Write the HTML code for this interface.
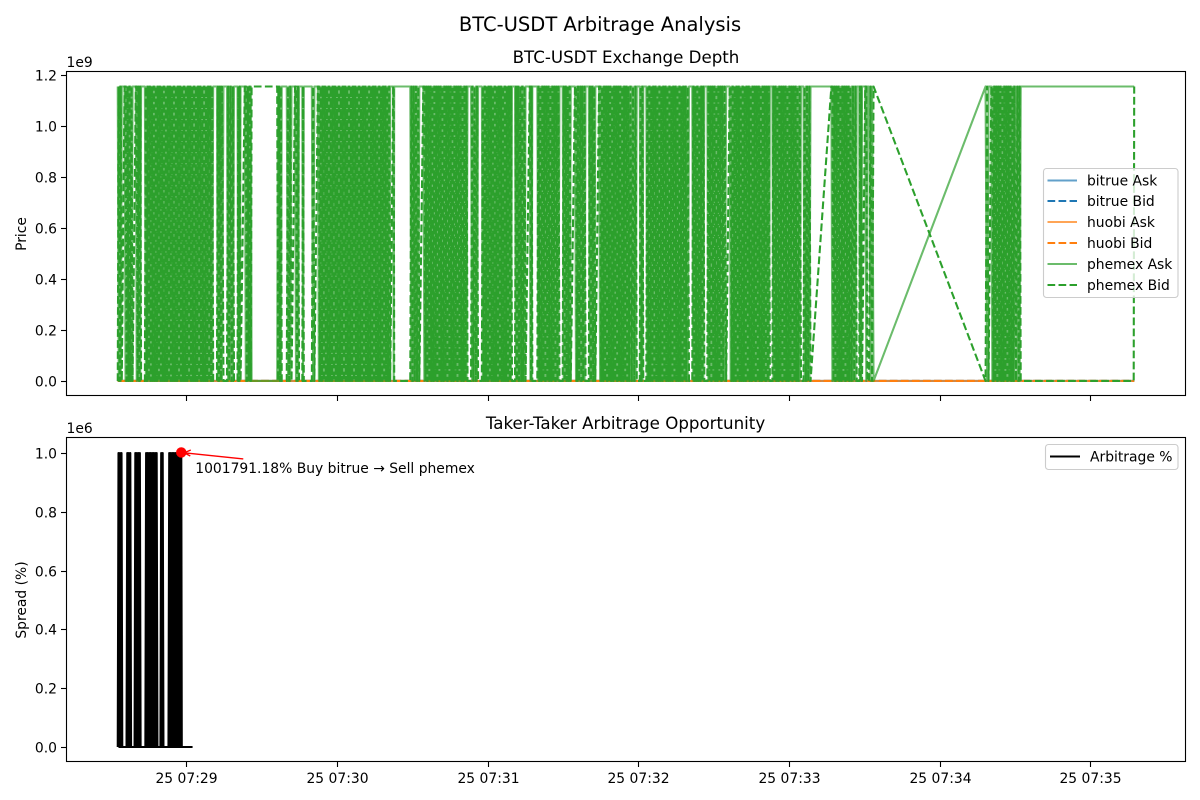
<!DOCTYPE html>
<html>
<head>
<meta charset="utf-8">
<title>BTC-USDT Arbitrage Analysis</title>
<style>
html,body{margin:0;padding:0;background:#fff;}
svg{display:block;font-family:"DejaVu Sans","Liberation Sans",sans-serif;}
text{fill:#000;}
</style>
</head>
<body>
<svg id="chart" width="1200" height="800" viewBox="0 0 1200 800" xmlns="http://www.w3.org/2000/svg">
  <rect width="1200" height="800" fill="#fff"/>
  <text x="600" y="31" font-size="19.5" text-anchor="middle">BTC-USDT Arbitrage Analysis</text>
  <text x="626" y="63" font-size="16.67" text-anchor="middle">BTC-USDT Exchange Depth</text>
  <text x="625.5" y="429" font-size="16.67" text-anchor="middle">Taker-Taker Arbitrage Opportunity</text>
  <text transform="translate(26,234) rotate(-90)" font-size="13.89" text-anchor="middle">Price</text>
  <text transform="translate(26,600) rotate(-90)" font-size="13.89" text-anchor="middle">Spread (%)</text>
  <text x="66.5" y="67" font-size="13.89">1e9</text>
  <text x="66.5" y="433" font-size="13.89">1e6</text>
  <g id="depth-series"></g>
  <g id="arb-series"></g>
  <g id="axes-ticks"></g>
  <rect x="66.5" y="71.5" width="1119" height="324" fill="none" stroke="#000" stroke-width="1.1"/>
  <rect x="66.5" y="437.5" width="1119" height="324" fill="none" stroke="#000" stroke-width="1.1"/>

  <g>
    <rect x="1043.5" y="168.5" width="134.5" height="129" rx="3" fill="#fff" fill-opacity="0.8" stroke="#ccc" stroke-width="1.1"/>
    <g><line x1="1047.5" x2="1077" y1="180.5" y2="180.5" stroke="#1f77b4" stroke-opacity="0.7" stroke-width="2.08"/><text x="1087" y="185.5" font-size="13.89">bitrue Ask</text></g>
    <g><line x1="1047.5" x2="1077" y1="201" y2="201" stroke="#1f77b4" stroke-width="2.08" stroke-dasharray="7.7 3.33"/><text x="1087" y="206" font-size="13.89">bitrue Bid</text></g>
    <g><line x1="1047.5" x2="1077" y1="222" y2="222" stroke="#ff7f0e" stroke-opacity="0.7" stroke-width="2.08"/><text x="1087" y="227" font-size="13.89">huobi Ask</text></g>
    <g><line x1="1047.5" x2="1077" y1="243" y2="243" stroke="#ff7f0e" stroke-width="2.08" stroke-dasharray="7.7 3.33"/><text x="1087" y="248" font-size="13.89">huobi Bid</text></g>
    <g><line x1="1047.5" x2="1077" y1="264" y2="264" stroke="#2ca02c" stroke-opacity="0.7" stroke-width="2.08"/><text x="1087" y="269" font-size="13.89">phemex Ask</text></g>
    <g><line x1="1047.5" x2="1077" y1="285" y2="285" stroke="#2ca02c" stroke-width="2.08" stroke-dasharray="7.7 3.33"/><text x="1087" y="290" font-size="13.89">phemex Bid</text></g>
  </g>
  <g>
    <rect x="1045.5" y="444.5" width="132.5" height="25" rx="3" fill="#fff" fill-opacity="0.8" stroke="#ccc" stroke-width="1.1"/>
    <g><line x1="1050" x2="1080" y1="456.5" y2="456.5" stroke="#000" stroke-width="2.08"/><text x="1090" y="461.5" font-size="13.89">Arbitrage %</text></g>
  </g>
</svg>
<script>
// Seconds after 07:28:00 for each axis tick
const xTickSeconds = [60,120,180,240,300,360,420];
const xTickLabels = ["25 07:29","25 07:30","25 07:31","25 07:32","25 07:33","25 07:34","25 07:35"];
const depthTicks = [0,0.2,0.4,0.6,0.8,1.0,1.2];
const depthTickLabels = ["0.0","0.2","0.4","0.6","0.8","1.0","1.2"];
const arbTicks = [0,0.2,0.4,0.6,0.8,1.0];
const arbTickLabels = ["0.0","0.2","0.4","0.6","0.8","1.0"];

// Sample times (seconds after 07:28:00)
const phemexSeconds = [
32.7,33.1,33.5,33.9,34.3,
35.4,35.8,36.2,36.6,37,37.4,37.8,38.2,38.6,
39.9,40.25,40.6,40.95,41.3,41.65,42,
43.5,43.9,44.3,44.7,45.1,45.5,45.9,46.3,46.7,47.1,
47.5,47.9,48.3,48.7,49.1,49.5,49.9,50.3,50.7,51.1,
51.5,51.9,52.3,52.7,53.1,53.5,53.9,54.3,54.7,55.1,
55.5,55.9,56.3,56.7,57.1,57.5,57.9,58.3,58.7,59.1,
59.5,59.9,60.3,60.7,61.1,61.5,61.9,62.3,62.7,63.1,
63.5,63.9,64.3,64.7,65.1,65.5,65.9,66.3,66.7,67.1,
67.5,67.9,68.3,68.7,69.1,69.5,69.9,70.3,70.7,
72.2,72.6,73,73.4,73.8,74.2,74.8,
76.2,76.65,77.1,77.6,78.1,78.55,79,
80.4,80.7,81,81.3,81.6,
83.3,83.7,84.1,84.5,84.9,85.3,85.7,86,
96.2,96.55,96.9,97.3,97.65,98,
100,100.5,100.95,101.4,101.9,
103.3,103.7,104.1,104.5,104.9,
106.2,106.5,106.8,
110,110.5,111,
112.4,112.8,113.2,113.6,114,114.4,114.8,115.2,115.6,116,
116.4,116.8,117.2,117.6,118,118.4,118.8,119.2,119.6,120,
120.4,120.8,121.2,121.6,122,122.4,122.8,123.2,123.6,124,
124.4,124.8,125.2,125.6,126,126.4,126.8,127.2,127.6,128,
128.4,128.8,129.2,129.6,130,130.4,130.8,131.2,131.6,132,
132.4,132.8,133.2,133.6,134,134.4,134.8,135.2,135.6,136,
136.4,136.8,137.2,137.6,138,138.4,138.8,139.2,139.6,140,
140.4,140.8,141.2,
142.4,142.6,142.8,
149.2,149.65,150.1,150.55,151,151.45,151.9,152.35,152.8,
154.4,154.8,155.2,155.6,156,156.4,156.8,157.2,157.6,158,
158.4,158.8,159.2,159.6,160,160.4,160.8,161.2,161.6,162,
162.4,162.8,163.2,163.6,164,164.4,164.8,165.2,165.6,166,
166.4,166.8,167.2,167.6,168,168.4,168.8,169.2,169.6,170,
170.4,170.8,171.2,171.6,172,
173.4,173.85,174.3,174.8,175.3,175.75,176.2,
177.7,178.1,178.5,178.9,179.3,179.7,180.1,180.5,180.9,181.3,
181.7,182.1,182.5,182.9,183.3,183.7,184.1,184.5,184.9,185.3,
185.7,186.1,186.5,186.9,187.3,187.7,188.1,188.5,188.9,189.3,
189.7,
190.9,191.3,191.7,192.1,192.5,193,193.4,193.8,194.2,194.7,
195.1,
196.8,197.05,197.3,197.55,197.8,
199.8,200.2,200.6,201,201.4,201.8,202.2,202.6,203,203.4,
203.8,204.2,204.6,205,205.4,205.8,206.2,206.6,207,207.4,
207.8,208.2,208.6,
209.9,210.3,210.7,211.1,211.5,211.9,212.3,212.7,213.1,
214.8,215.2,215.6,216,216.4,216.9,217.3,217.7,218.1,218.6,
219,
220.3,220.75,221.15,221.6,222.05,222.45,222.9,
224.4,224.8,225.2,225.6,226,226.4,226.8,227.2,227.6,228,
228.4,228.8,229.2,229.6,230,230.4,230.8,231.2,231.6,232,
232.4,232.8,233.2,233.6,234,234.4,234.8,235.2,235.6,236,
236.4,236.9,237.4,237.9,238.4,238.9,239.4,
240.6,240.95,241.3,241.65,242,
243.2,243.6,244,244.4,244.8,245.2,245.6,246,246.4,246.8,
247.2,247.6,248,248.4,248.8,249.2,249.6,250,250.4,250.8,
251.2,251.6,252,252.4,252.8,253.2,253.6,254,254.4,254.8,
255.2,255.6,256,256.4,256.8,257.2,257.6,258,258.4,258.8,
259.2,259.7,260.2,
261.5,261.9,262.3,262.7,263.1,263.5,263.9,264.3,264.7,265.1,
265.5,265.9,266.3,
267.5,267.9,268.3,268.7,269.1,269.5,269.9,270.3,270.7,271.1,
271.5,271.9,272.3,272.7,273.1,273.5,273.9,274.4,275,
276.4,276.8,277.2,277.6,278,278.4,278.8,279.2,279.6,280,
280.4,280.8,281.2,281.6,282,282.4,282.8,283.2,283.6,284,
284.4,284.8,285.2,285.6,286,286.4,286.8,287.2,287.6,288,
288.4,288.8,289.2,289.6,290,290.4,290.8,291.2,291.6,292,
292.4,
293.4,293.8,294.2,294.6,295,295.4,295.8,296.2,296.6,297,
297.4,297.8,298.2,298.6,299,299.4,299.8,300.2,300.6,301,
301.4,301.8,302.2,302.6,303,303.4,303.8,304.3,304.8,
305.8,306.25,306.75,307.2,307.65,308.15,308.6,
316.9,317.3,317.7,318.1,318.5,318.9,319.3,319.7,320.1,320.5,
320.9,321.3,321.7,322.1,322.5,322.9,323.3,323.7,324.1,324.5,
325,325.5,326,326.5,327,
328,328.3,328.55,328.8,329.1,
330.4,330.8,331.2,
331.9,332.5,333.1,
333.7,
378.3,378.9,379.5,
380.6,381,381.4,381.8,382.2,382.6,383,383.4,383.8,384.2,
384.6,385,385.4,385.8,386.2,386.6,387,387.4,387.8,388.2,
388.6,389,389.4,389.8,390.4,391,391.5,391.9,392.3,
437.3,437.5
];

// phemex ask, in millions
const phemexAsk = [
1155,.1,1155,.1,1155,
1155,.1,1155,.1,1155,.1,1155,.1,1155,
1155,.1,1155,.1,1155,.1,1155,
1155,.1,1155,.1,1155,.1,1155,.1,1155,.1,
1155,.1,1155,.1,1155,.1,1155,.1,1155,.1,
1155,.1,1155,.1,1155,.1,1155,.1,1155,.1,
1155,.1,1155,.1,1155,.1,1155,.1,1155,.1,
1155,.1,1155,.1,1155,.1,1155,.1,1155,.1,
1155,.1,1155,.1,1155,.1,1155,.1,1155,.1,
1155,.1,1155,.1,1155,.1,1155,.1,1155,
1155,.1,1155,.1,1155,.1,1155,
1155,.1,1155,.1,1155,.1,1155,
1155,.1,1155,.1,1155,
1155,.1,1155,.1,1155,.1,1155,.1,
.1,1155,.1,1155,.1,1155,
1155,.1,1155,.1,1155,
1155,.1,1155,.1,1155,
1155,.1,1155,
1155,.1,1155,
1155,.1,1155,.1,1155,.1,1155,.1,1155,.1,
1155,.1,1155,.1,1155,.1,1155,.1,1155,.1,
1155,.1,1155,.1,1155,.1,1155,.1,1155,.1,
1155,.1,1155,.1,1155,.1,1155,.1,1155,.1,
1155,.1,1155,.1,1155,.1,1155,.1,1155,.1,
1155,.1,1155,.1,1155,.1,1155,.1,1155,.1,
1155,.1,1155,.1,1155,.1,1155,.1,1155,.1,
1155,.1,1155,
1155,.1,1155,
1155,.1,1155,.1,1155,.1,1155,.1,1155,
1155,.1,1155,.1,1155,.1,1155,.1,1155,.1,
1155,.1,1155,.1,1155,.1,1155,.1,1155,.1,
1155,.1,1155,.1,1155,.1,1155,.1,1155,.1,
1155,.1,1155,.1,1155,.1,1155,.1,1155,.1,
1155,.1,1155,.1,1155,
1155,.1,1155,.1,1155,.1,1155,
1155,.1,1155,.1,1155,.1,1155,.1,1155,.1,
1155,.1,1155,.1,1155,.1,1155,.1,1155,.1,
1155,.1,1155,.1,1155,.1,1155,.1,1155,.1,
1155,
1155,.1,1155,.1,1155,.1,1155,.1,1155,.1,
1155,
1155,.1,1155,.1,1155,
1155,.1,1155,.1,1155,.1,1155,.1,1155,.1,
1155,.1,1155,.1,1155,.1,1155,.1,1155,.1,
1155,.1,1155,
1155,.1,1155,.1,1155,.1,1155,.1,1155,
1155,.1,1155,.1,1155,.1,1155,.1,1155,.1,
1155,
1155,.1,1155,.1,1155,.1,1155,
1155,.1,1155,.1,1155,.1,1155,.1,1155,.1,
1155,.1,1155,.1,1155,.1,1155,.1,1155,.1,
1155,.1,1155,.1,1155,.1,1155,.1,1155,.1,
1155,.1,1155,.1,1155,.1,1155,
1155,.1,1155,.1,1155,
1155,.1,1155,.1,1155,.1,1155,.1,1155,.1,
1155,.1,1155,.1,1155,.1,1155,.1,1155,.1,
1155,.1,1155,.1,1155,.1,1155,.1,1155,.1,
1155,.1,1155,.1,1155,.1,1155,.1,1155,.1,
1155,.1,1155,
1155,.1,1155,.1,1155,.1,1155,.1,1155,.1,
1155,.1,1155,
1155,.1,1155,.1,1155,.1,1155,.1,1155,.1,
1155,.1,1155,.1,1155,.1,1155,.1,1155,
1155,.1,1155,.1,1155,.1,1155,.1,1155,.1,
1155,.1,1155,.1,1155,.1,1155,.1,1155,.1,
1155,.1,1155,.1,1155,.1,1155,.1,1155,.1,
1155,.1,1155,.1,1155,.1,1155,.1,1155,.1,
1155,
1155,.1,1155,.1,1155,.1,1155,.1,1155,.1,
1155,.1,1155,.1,1155,.1,1155,.1,1155,.1,
1155,.1,1155,.1,1155,.1,1155,.1,1155,
1155,.1,1155,.1,1155,.1,1155,
1155,.1,1155,.1,1155,.1,1155,.1,1155,.1,
1155,.1,1155,.1,1155,.1,1155,.1,1155,.1,
1155,.1,1155,.1,1155,
1155,.1,1155,.1,1155,
1155,.1,1155,
1155,.1,1155,
.1,
1155,.1,1155,
1155,.1,1155,.1,1155,.1,1155,.1,1155,.1,
1155,.1,1155,.1,1155,.1,1155,.1,1155,.1,
1155,.1,1155,.1,1155,.1,1155,.1,1155,
1155,1155
];

// phemex bid, in millions
const phemexBid = [
.1,1155,.1,1155,.1,
1155,1155,.1,1155,.1,1155,.1,1155,.1,
1155,1155,.1,1155,.1,1155,.1,
.1,1155,.1,1155,.1,1155,.1,1155,.1,1155,
.1,1155,.1,1155,.1,1155,.1,1155,.1,1155,
.1,1155,.1,1155,.1,1155,.1,1155,.1,1155,
.1,1155,.1,1155,.1,1155,.1,1155,.1,1155,
.1,1155,.1,1155,.1,1155,.1,1155,.1,1155,
.1,1155,.1,1155,.1,1155,.1,1155,.1,1155,
.1,1155,.1,1155,.1,1155,.1,1155,.1,
.1,1155,.1,1155,.1,1155,.1,
.1,1155,.1,1155,.1,1155,.1,
.1,1155,.1,1155,.1,
1155,1155,.1,1155,.1,1155,.1,1155,
1155,.1,1155,.1,1155,.1,
.1,1155,.1,1155,.1,
1155,1155,.1,1155,.1,
.1,1155,.1,
.1,1155,.1,
1155,1155,.1,1155,.1,1155,.1,1155,.1,1155,
.1,1155,.1,1155,.1,1155,.1,1155,.1,1155,
.1,1155,.1,1155,.1,1155,.1,1155,.1,1155,
.1,1155,.1,1155,.1,1155,.1,1155,.1,1155,
.1,1155,.1,1155,.1,1155,.1,1155,.1,1155,
.1,1155,.1,1155,.1,1155,.1,1155,.1,1155,
.1,1155,.1,1155,.1,1155,.1,1155,.1,1155,
.1,1155,.1,
1155,1155,.1,
.1,1155,.1,1155,.1,1155,.1,1155,.1,
1155,1155,.1,1155,.1,1155,.1,1155,.1,1155,
.1,1155,.1,1155,.1,1155,.1,1155,.1,1155,
.1,1155,.1,1155,.1,1155,.1,1155,.1,1155,
.1,1155,.1,1155,.1,1155,.1,1155,.1,1155,
.1,1155,.1,1155,.1,
.1,1155,.1,1155,.1,1155,.1,
.1,1155,.1,1155,.1,1155,.1,1155,.1,1155,
.1,1155,.1,1155,.1,1155,.1,1155,.1,1155,
.1,1155,.1,1155,.1,1155,.1,1155,.1,1155,
.1,
.1,1155,.1,1155,.1,1155,.1,1155,.1,1155,
.1,
1155,1155,.1,1155,.1,
.1,1155,.1,1155,.1,1155,.1,1155,.1,1155,
.1,1155,.1,1155,.1,1155,.1,1155,.1,1155,
.1,1155,.1,
.1,1155,.1,1155,.1,1155,.1,1155,.1,
1155,1155,.1,1155,.1,1155,.1,1155,.1,1155,
.1,
.1,1155,.1,1155,.1,1155,.1,
1155,1155,.1,1155,.1,1155,.1,1155,.1,1155,
.1,1155,.1,1155,.1,1155,.1,1155,.1,1155,
.1,1155,.1,1155,.1,1155,.1,1155,.1,1155,
.1,1155,.1,1155,.1,1155,.1,
.1,1155,.1,1155,.1,
.1,1155,.1,1155,.1,1155,.1,1155,.1,1155,
.1,1155,.1,1155,.1,1155,.1,1155,.1,1155,
.1,1155,.1,1155,.1,1155,.1,1155,.1,1155,
.1,1155,.1,1155,.1,1155,.1,1155,.1,1155,
.1,1155,.1,
.1,1155,.1,1155,.1,1155,.1,1155,.1,1155,
.1,1155,.1,
.1,1155,.1,1155,.1,1155,.1,1155,.1,1155,
.1,1155,.1,1155,.1,1155,.1,1155,.1,
1155,1155,.1,1155,.1,1155,.1,1155,.1,1155,
.1,1155,.1,1155,.1,1155,.1,1155,.1,1155,
.1,1155,.1,1155,.1,1155,.1,1155,.1,1155,
.1,1155,.1,1155,.1,1155,.1,1155,.1,1155,
.1,
.1,1155,.1,1155,.1,1155,.1,1155,.1,1155,
.1,1155,.1,1155,.1,1155,.1,1155,.1,1155,
.1,1155,.1,1155,.1,1155,.1,1155,.1,
.1,1155,.1,1155,.1,1155,.1,
1155,1155,.1,1155,.1,1155,.1,1155,.1,1155,
.1,1155,.1,1155,.1,1155,.1,1155,.1,1155,
.1,1155,.1,1155,.1,
.1,1155,.1,1155,.1,
1155,1155,.1,
.1,1155,.1,
1155,
.1,1155,.1,
1155,1155,.1,1155,.1,1155,.1,1155,.1,1155,
.1,1155,.1,1155,.1,1155,.1,1155,.1,1155,
.1,1155,.1,1155,.1,1155,.1,1155,.1,
.1,1155
];

// bitrue and huobi stay near the floor of the price axis, in millions
const floorSeconds = [32.7,120,240,333.7,437.5];
const bitrueAsk = [.115,.115,.116,.115,.116];
const bitrueBid = [.115,.115,.116,.115,.116];
const huobiAsk = [.115,.116,.116,.115,.116];
const huobiBid = [.115,.115,.116,.115,.116];

// Arbitrage spread, in percent
const arbSeconds = [
32.7,33,33.3,33.6,33.9,34.2,34.5,
36.2,36.5,36.8,37.1,37.4,37.7,38,
39.4,39.7,40,40.3,40.6,40.9,41.2,41.5,41.8,
43.7,44,44.3,44.6,44.9,45.2,45.5,45.8,46.1,46.4,46.7,47,47.3,47.6,47.9,48.2,48.5,
49.7,50,50.3,50.6,50.9,
52.9,53.2,53.5,53.8,54.1,54.4,54.7,55,55.3,55.6,55.9,56.2,56.5,56.8,57.1,57.4,57.7,
58,58.2,
62.5
];
const arbSpread = [
0,1000000,0,1000000,0,1000000,0,
0,1000000,0,1000000,0,1000000,0,
0,1000000,0,1000000,0,1000000,0,1000000,0,
0,1000000,0,1000000,0,1000000,0,1000000,0,1000000,0,1000000,0,1000000,0,1000000,0,
0,1000000,0,1000000,0,
0,1000000,0,1000000,0,1000000,0,1000000,0,1000000,0,1000000,0,1000000,0,1000000,0,
1001791.18,0,
0
];
const peakSecond = 58;
const peakSpread = 1001791.18;
const peakLabel = "1001791.18% Buy bitrue \u2192 Sell phemex";

const NS = "http://www.w3.org/2000/svg";
function xScale(t){ return 186.3 + (t - 60) * 2.511; }
function depthY(v){ return 381 - 0.255 * v; }
function arbY(v){ return 747 - 294 * v / 1e6; }

function make(tag, parent, attrs){
  const el = document.createElementNS(NS, tag);
  for (const k in attrs) el.setAttribute(k, attrs[k]);
  parent.appendChild(el);
  return el;
}
function pointsOf(ts, vs, yScale){
  const out = [];
  const n = Math.min(ts.length, vs.length);
  for (let i = 0; i < n; i++) out.push(xScale(ts[i]).toFixed(2) + "," + yScale(vs[i]).toFixed(2));
  return out.join(" ");
}

const depthG = document.getElementById("depth-series");
const arbG = document.getElementById("arb-series");
const tickG = document.getElementById("axes-ticks");
const DASH = "7.7 3.33";
const seriesDefs = [
  ["bitrue-ask-line", floorSeconds, bitrueAsk, "#1f77b4", 0.7, null],
  ["bitrue-bid-line", floorSeconds, bitrueBid, "#1f77b4", 1, DASH],
  ["huobi-ask-line", floorSeconds, huobiAsk, "#ff7f0e", 0.7, null],
  ["huobi-bid-line", floorSeconds, huobiBid, "#ff7f0e", 1, DASH],
  ["phemex-ask-line", phemexSeconds, phemexAsk, "#2ca02c", 0.7, null],
  ["phemex-bid-line", phemexSeconds, phemexBid, "#2ca02c", 1, DASH]
];
seriesDefs.forEach(function(s){
  const line = make("polyline", depthG, {points: pointsOf(s[1], s[2], depthY), fill: "none", stroke: s[3], "stroke-opacity": s[4], "stroke-width": 2.08, "stroke-linejoin": "round"});
  if (s[5]) line.setAttribute("stroke-dasharray", s[5]);
  
  
});

const arbLine = make("polyline", arbG, {points: pointsOf(arbSeconds, arbSpread, arbY), fill: "none", stroke: "#000", "stroke-width": 2.08, "stroke-linejoin": "round"});



const peakX = xScale(peakSecond), peakY = arbY(peakSpread);
const peakDot = make("circle", arbG, {cx: peakX, cy: peakY, r: 5.2, fill: "#ff0000"});


const arrow = make("path", arbG, {d: "M" + (peakX + 62) + " " + (peakY + 6.5) + "L" + (peakX + 3) + " " + (peakY + 0.3) + "M" + (peakX + 9.5) + " " + (peakY - 2.5) + "L" + (peakX + 3) + " " + (peakY + 0.3) + "L" + (peakX + 9) + " " + (peakY + 3.5), fill: "none", stroke: "#ff0000", "stroke-width": 1.4});


const peakText = make("text", arbG, {x: peakX + 14, y: peakY + 20.5, "font-size": 13.89});
peakText.textContent = peakLabel;



xTickSeconds.forEach(function(t, i){
  const x = Math.round(xScale(t)) + 0.5;
  const topTick = make("line", tickG, {x1: x, x2: x, y1: 396, y2: 401, stroke: "#000", "stroke-width": 1.1});
  
  
  const botTick = make("line", tickG, {x1: x, x2: x, y1: 762, y2: 767, stroke: "#000", "stroke-width": 1.1});
  
  
  const lab = make("text", tickG, {x: x, y: 783, "font-size": 13.89, "text-anchor": "middle"});
  lab.textContent = xTickLabels[i];
  
  
});
depthTicks.forEach(function(v, i){
  const y = Math.round(depthY(v * 1000)) + 0.5;
  const tick = make("line", tickG, {x1: 61, x2: 66, y1: y, y2: y, stroke: "#000", "stroke-width": 1.1});
  
  
  const lab = make("text", tickG, {x: 57, y: y + 5, "font-size": 13.89, "text-anchor": "end"});
  lab.textContent = depthTickLabels[i];
  
  
});
arbTicks.forEach(function(v, i){
  const y = Math.round(arbY(v * 1e6)) + 0.5;
  const tick = make("line", tickG, {x1: 61, x2: 66, y1: y, y2: y, stroke: "#000", "stroke-width": 1.1});
  
  
  const lab = make("text", tickG, {x: 57, y: y + 5, "font-size": 13.89, "text-anchor": "end"});
  lab.textContent = arbTickLabels[i];
  
  
});
</script>
</body>
</html>
